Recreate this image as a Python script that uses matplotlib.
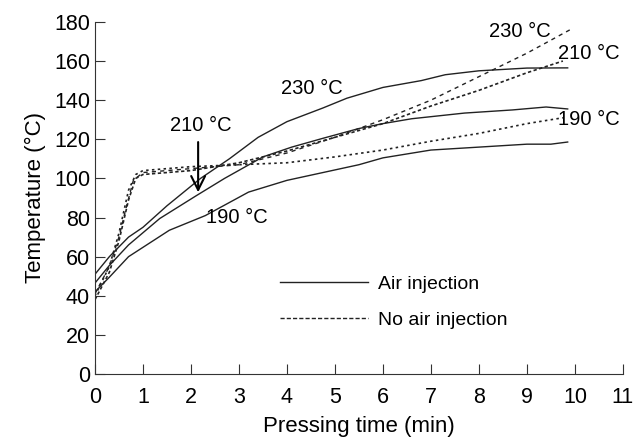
import matplotlib
matplotlib.use('Agg')
import matplotlib.pyplot as plt

plt.rcParams['font.family'] = ['Liberation Sans', 'DejaVu Sans']

# Air injection (solid)
t_a230 = [0, 0.3, 0.7, 1.0, 1.5, 2.2, 2.8, 3.4, 4.0, 4.75, 5.25, 6.0, 6.8, 7.3, 8.0, 9.0, 9.85]
T_a230 = [51, 60, 70, 75, 86, 100, 110, 121, 129, 136, 141, 146.5, 150, 153, 155, 156.4, 156.5]
t_a210 = [0, 0.3, 0.7, 1.35, 2.1, 2.7, 3.5, 4.1, 4.75, 5.5, 6.0, 6.6, 7.7, 8.7, 9.4, 9.85]
T_a210 = [46.5, 55.5, 66, 79.5, 91, 100, 111, 116, 120.5, 125.5, 128, 130.5, 133.4, 135, 136.5, 135.5]
t_a190 = [0, 0.3, 0.7, 1.55, 2.3, 3.2, 4.0, 4.75, 5.5, 6.0, 7.0, 8.0, 9.0, 9.5, 9.85]
T_a190 = [42, 49.5, 60, 73.5, 81, 93, 99, 103, 107, 110.5, 114.5, 116, 117.5, 117.5, 118.6]

# No air injection (dashed)
t_n230 = [0, 0.3, 0.5, 0.65, 0.8, 1.0, 2.0, 3.0, 4.0, 5.0, 6.0, 7.0, 8.0, 9.0, 9.9]
T_n230 = [41, 55, 70, 85, 99, 103, 105, 107, 113, 121, 130, 140, 152, 164, 176]
t_n210 = [0, 0.3, 0.5, 0.7, 0.85, 1.0, 2.0, 3.0, 4.0, 5.0, 6.0, 7.0, 8.0, 9.0, 9.75]
T_n210 = [38, 52, 68, 89, 100, 102, 104, 108, 114, 121, 128, 137, 145, 154, 160]
t_n190 = [0, 0.3, 0.5, 0.7, 0.85, 1.0, 2.0, 3.0, 4.0, 5.0, 6.0, 7.0, 8.0, 9.0, 9.75]
T_n190 = [40, 55, 72, 94, 102, 104, 106, 107, 108, 111, 114.5, 119, 123, 128, 131]

fig = plt.figure(figsize=(6.33, 4.38), dpi=100)
ax = fig.add_axes([0.150, 0.146, 0.834, 0.804])

lc = '#222222'
l1, = ax.plot(t_a230, T_a230, color=lc, lw=1.0)
ax.plot(t_a210, T_a210, color=lc, lw=1.0)
ax.plot(t_a190, T_a190, color=lc, lw=1.0)
ax.plot(t_n230, T_n230, color=lc, lw=1.0, ls=(0, (3, 3)))
ax.plot(t_n210, T_n210, color=lc, lw=1.2, ls=(0, (2, 1.5)))
ax.plot(t_n190, T_n190, color=lc, lw=1.2, ls=(0, (1.5, 2)))
l2, = ax.plot([], [], color=lc, lw=1.0, ls=(0, (3, 1.5)))

fs = 15.5
afs = 14.5
ax.text(4.52, 146, '230 °C', fontsize=afs, ha='center', va='center')
ax.text(2.96, 80, '190 °C', fontsize=afs, ha='center', va='center')
ax.text(2.2, 127, '210 °C', fontsize=afs, ha='center', va='center')
ax.text(8.85, 175, '230 °C', fontsize=afs, ha='center', va='center')
ax.text(10.3, 164, '210 °C', fontsize=afs, ha='center', va='center')
ax.text(10.3, 130, '190 °C', fontsize=afs, ha='center', va='center')
ax.annotate('', xy=(2.15, 91.5), xytext=(2.15, 120),
            arrowprops=dict(arrowstyle='->', color='black', lw=1.5, mutation_scale=25))

ax.legend([l1, l2], ['Air injection', 'No air injection'], loc='upper left',
          bbox_to_anchor=(0.318, 0.33), frameon=False, fontsize=14,
          handlelength=4.5, handletextpad=0.5, labelspacing=0.95)

ax.set_xlim(0, 11)
ax.set_ylim(0, 180)
ax.set_xticks(range(0, 12))
ax.set_yticks(range(0, 181, 20))
ax.spines['top'].set_visible(False)
ax.spines['right'].set_visible(False)
for s in ['left', 'bottom']:
    ax.spines[s].set_color('#333333')
ax.tick_params(direction='in', length=7, labelsize=fs, color='#333333')
ax.tick_params(axis='x', pad=9)
ax.set_xlabel('Pressing time (min)', fontsize=fs + 0.5, labelpad=6)
ax.set_ylabel('Temperature (°C)', fontsize=fs + 0.5, labelpad=6)

plt.savefig('out.png', dpi=100)
